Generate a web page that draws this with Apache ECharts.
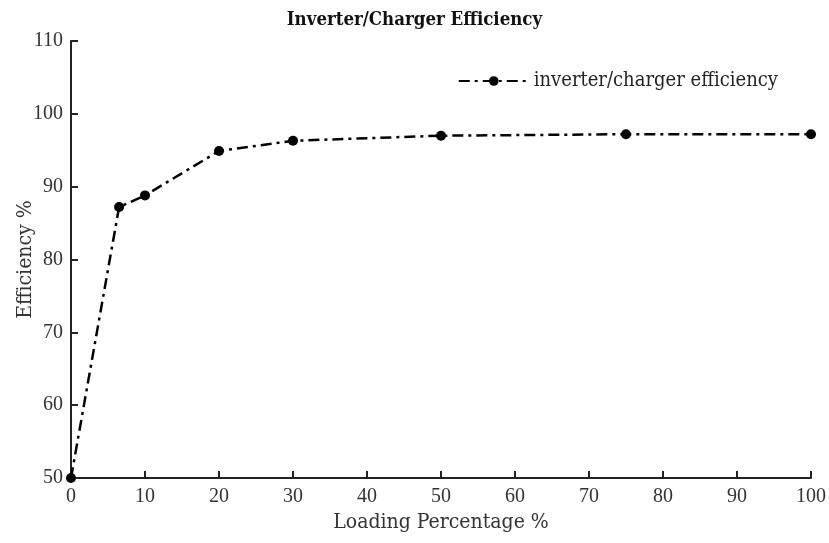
<!DOCTYPE html>
<html>
<head>
<meta charset="utf-8">
<script src="https://cdn.jsdelivr.net/npm/echarts@6/dist/echarts.min.js"></script>
<style>html,body{margin:0;padding:0;background:#fff}#c{width:829px;height:543px}</style>
</head>
<body>
<div id="c"></div>
<script>
const loading = [0, 6.5, 10, 20, 30, 50, 75, 100];
const efficiency = [50, 87.2, 88.8, 94.9, 96.3, 97.0, 97.2, 97.2];
const seriesName = 'inverter/charger efficiency';
const titleText = 'Inverter/Charger Efficiency';
const xName = 'Loading Percentage %';
const yName = 'Efficiency %';

const font = '"DejaVu Serif Condensed", "DejaVu Serif", serif';
const tickFont = 'Liberation Serif';
const chart = echarts.init(document.getElementById('c'));
chart.setOption({
  animation: false,
  title: {
    text: titleText, left: 'center', top: 6,
    textStyle: {fontFamily: font, fontWeight: 'bold', fontSize: 18.5, color: '#111'}
  },
  legend: {
    data: [seriesName], right: 46, top: 66, itemWidth: 70, itemHeight: 12, itemGap: 7,
    textStyle: {fontFamily: font, fontSize: 20, color: '#222'}
  },
  grid: {left: 71, right: 18, top: 41, bottom: 65, outerBoundsMode: 'none', containLabel: false},
  xAxis: {
    type: 'value', min: 0, max: 100, interval: 10,
    name: xName, nameLocation: 'middle', nameGap: 34, nameMoveOverlap: false,
    nameTextStyle: {fontFamily: font, fontSize: 21, color: '#333'},
    axisLine: {show: true, lineStyle: {color: '#222', width: 2}},
    axisTick: {show: true, inside: true, length: 7, lineStyle: {color: '#222', width: 2}},
    axisLabel: {fontFamily: tickFont, fontSize: 20, color: '#333', margin: 9},
    splitLine: {show: false}
  },
  yAxis: {
    type: 'value', min: 50, max: 110, interval: 10,
    name: yName, nameLocation: 'middle', nameGap: 35, nameMoveOverlap: false,
    nameTextStyle: {fontFamily: font, fontSize: 21, color: '#333'},
    axisLine: {show: true, lineStyle: {color: '#222', width: 2}},
    axisTick: {show: true, inside: true, length: 7, lineStyle: {color: '#222', width: 2}},
    axisLabel: {fontFamily: tickFont, fontSize: 20, color: '#333', margin: 8},
    splitLine: {show: false}
  },
  series: [{
    name: seriesName, type: 'line',
    data: loading.map((x, i) => [x, efficiency[i]]),
    symbol: 'circle', symbolSize: 10,
    itemStyle: {color: '#000'},
    lineStyle: {color: '#000', width: 2.5, type: [11, 5, 3, 5]}
  }]
});
</script>
</body>
</html>
